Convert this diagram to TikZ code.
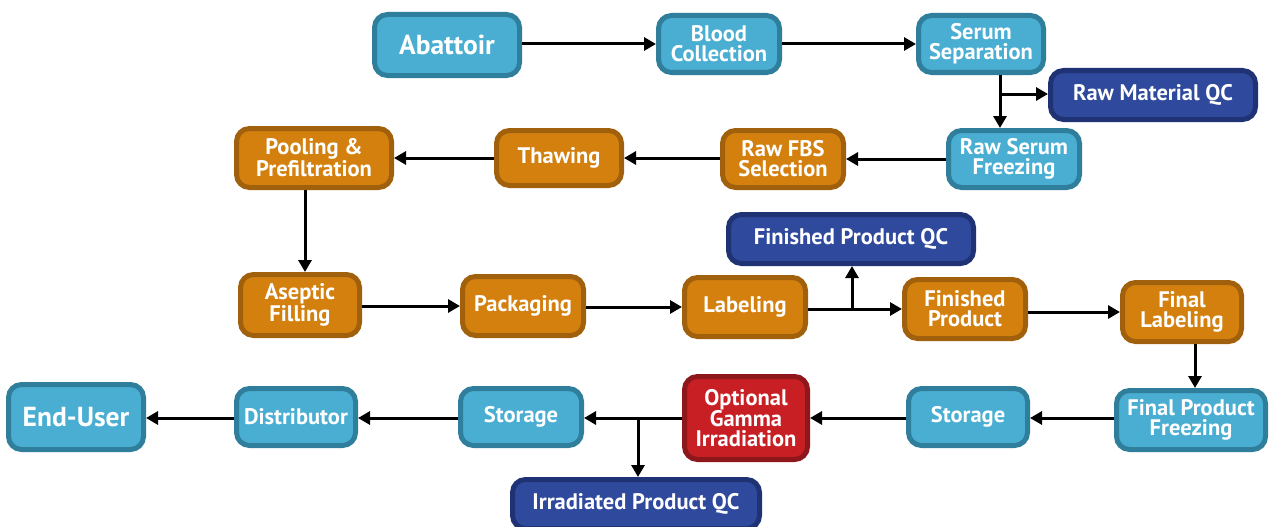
\documentclass[tikz,border=0pt]{standalone}
\usepackage{fontspec}
\setmainfont{PT Sans}
\usetikzlibrary{arrows.meta}
\definecolor{cblue}{HTML}{4AAED2}
\definecolor{cblued}{HTML}{2F7E9C}
\definecolor{corg}{HTML}{D3800F}
\definecolor{corgd}{HTML}{A0600C}
\definecolor{cnavy}{HTML}{2F4A9C}
\definecolor{cnavyd}{HTML}{1F3274}
\definecolor{cred}{HTML}{C81F25}
\definecolor{credd}{HTML}{8E171B}
\begin{document}
\begin{tikzpicture}[x=1pt,y=-1pt,
  bx/.style={rounded corners=13pt, line width=5pt, align=center, text=white,
    font=\bfseries\fontsize{22.5}{20}\selectfont, inner sep=0pt},
  bl/.style={bx, fill=cblue, draw=cblued},
  og/.style={bx, fill=corg, draw=corgd},
  nv/.style={bx, fill=cnavy, draw=cnavyd},
  rd/.style={bx, fill=cred, draw=credd},
  sz/.style 2 args={minimum width=#1pt, minimum height=#2pt},
  big/.style={font=\bfseries\fontsize{27.5}{25}\selectfont},
  arr/.style={line width=3pt, -{Triangle[length=12pt,width=13pt]}}]
\useasboundingbox (0,0) rectangle (1271,527);
% row 1
\node[bl,sz={145}{61},big] (abat) at (447,45) {Abattoir};
\node[bl,sz={121}{57}] (blood) at (719,44) {Blood\\Collection};
\node[bl,sz={125}{57}] (serum) at (981,44) {Serum\\Separation};
\node[nv,sz={205}{49}] (rmqc) at (1153,95) {Raw Material QC};
% row 2
\node[bl,sz={131}{57}] (rsf) at (1014,159) {Raw Serum\\Freezing};
\node[og,sz={121}{57}] (fbs) at (783,159) {Raw FBS\\Selection};
\node[og,sz={125}{55}] (thaw) at (559,158) {Thawing};
\node[og,sz={155}{59}] (pool) at (314,158) {Pooling \&\\Prefiltration};
% row 3
\node[nv,sz={245}{49}] (fpqc) at (851,239) {Finished Product QC};
\node[og,sz={119}{61}] (asep) at (300,305) {Aseptic\\Filling};
\node[og,sz={121}{59}] (pack) at (523,306) {Packaging};
\node[og,sz={121}{59}] (lab) at (745,307) {Labeling};
\node[og,sz={121}{59}] (fp) at (965,309) {Finished\\Product};
\node[og,sz={119}{59}] (flab) at (1182,312) {Final\\Labeling};
% row 4
\node[bl,sz={149}{59}] (fpf) at (1191,420) {Final Product\\Freezing};
\node[bl,sz={119}{57}] (stor1) at (968,417) {Storage};
\node[rd,sz={123}{83}] (gam) at (746,418) {Optional\\Gamma\\Irradiation};
\node[bl,sz={121}{57}] (stor2) at (521,417) {Storage};
\node[nv,sz={247}{49}] (irqc) at (636,504) {Irradiated Product QC};
\node[bl,sz={119}{57}] (dist) at (296,417) {Distributor};
\node[bl,sz={135}{65},big] (end) at (76,417) {End-User};
% junctions
\coordinate (j1) at (1000,94);
\coordinate (j2) at (852,309);
\coordinate (j3) at (638,418);
\coordinate (j4) at (305,200);
\coordinate (j5) at (1195,330);
\coordinate (r4) at (0,418);
% arrows
\draw[arr] (abat.east |- blood.west) -- (blood.west);
\draw[arr] (blood.east) -- (serum.west);
\draw[arr] (serum.south -| j1) -- (rsf.north -| j1);
\draw[arr] (j1) -- (rmqc.west |- j1);
\draw[arr] (rsf.west) -- (fbs.east);
\draw[arr] (fbs.west |- thaw.east) -- (thaw.east);
\draw[arr] (thaw.west) -- (pool.east |- thaw.west);
\draw[arr] (pool.south -| j4) -- (asep.north -| j4);
\draw[arr] (asep.east |- pack.west) -- (pack.west);
\draw[arr] (pack.east |- lab.west) -- (lab.west);
\draw[arr] (lab.east |- fp.west) -- (fp.west);
\draw[arr] (j2) -- (fpqc.south -| j2);
\draw[arr] (fp.east |- flab.west) -- (flab.west);
\draw[arr] (flab.south -| j5) -- (fpf.north -| j5);
\draw[arr] (fpf.west |- r4) -- (stor1.east |- r4);
\draw[arr] (stor1.west |- r4) -- (gam.east |- r4);
\draw[arr] (gam.west |- r4) -- (stor2.east |- r4);
\draw[arr] (j3) -- (irqc.north -| j3);
\draw[arr] (stor2.west |- r4) -- (dist.east |- r4);
\draw[arr] (dist.west |- r4) -- (end.east |- r4);
\end{tikzpicture}
\end{document}
